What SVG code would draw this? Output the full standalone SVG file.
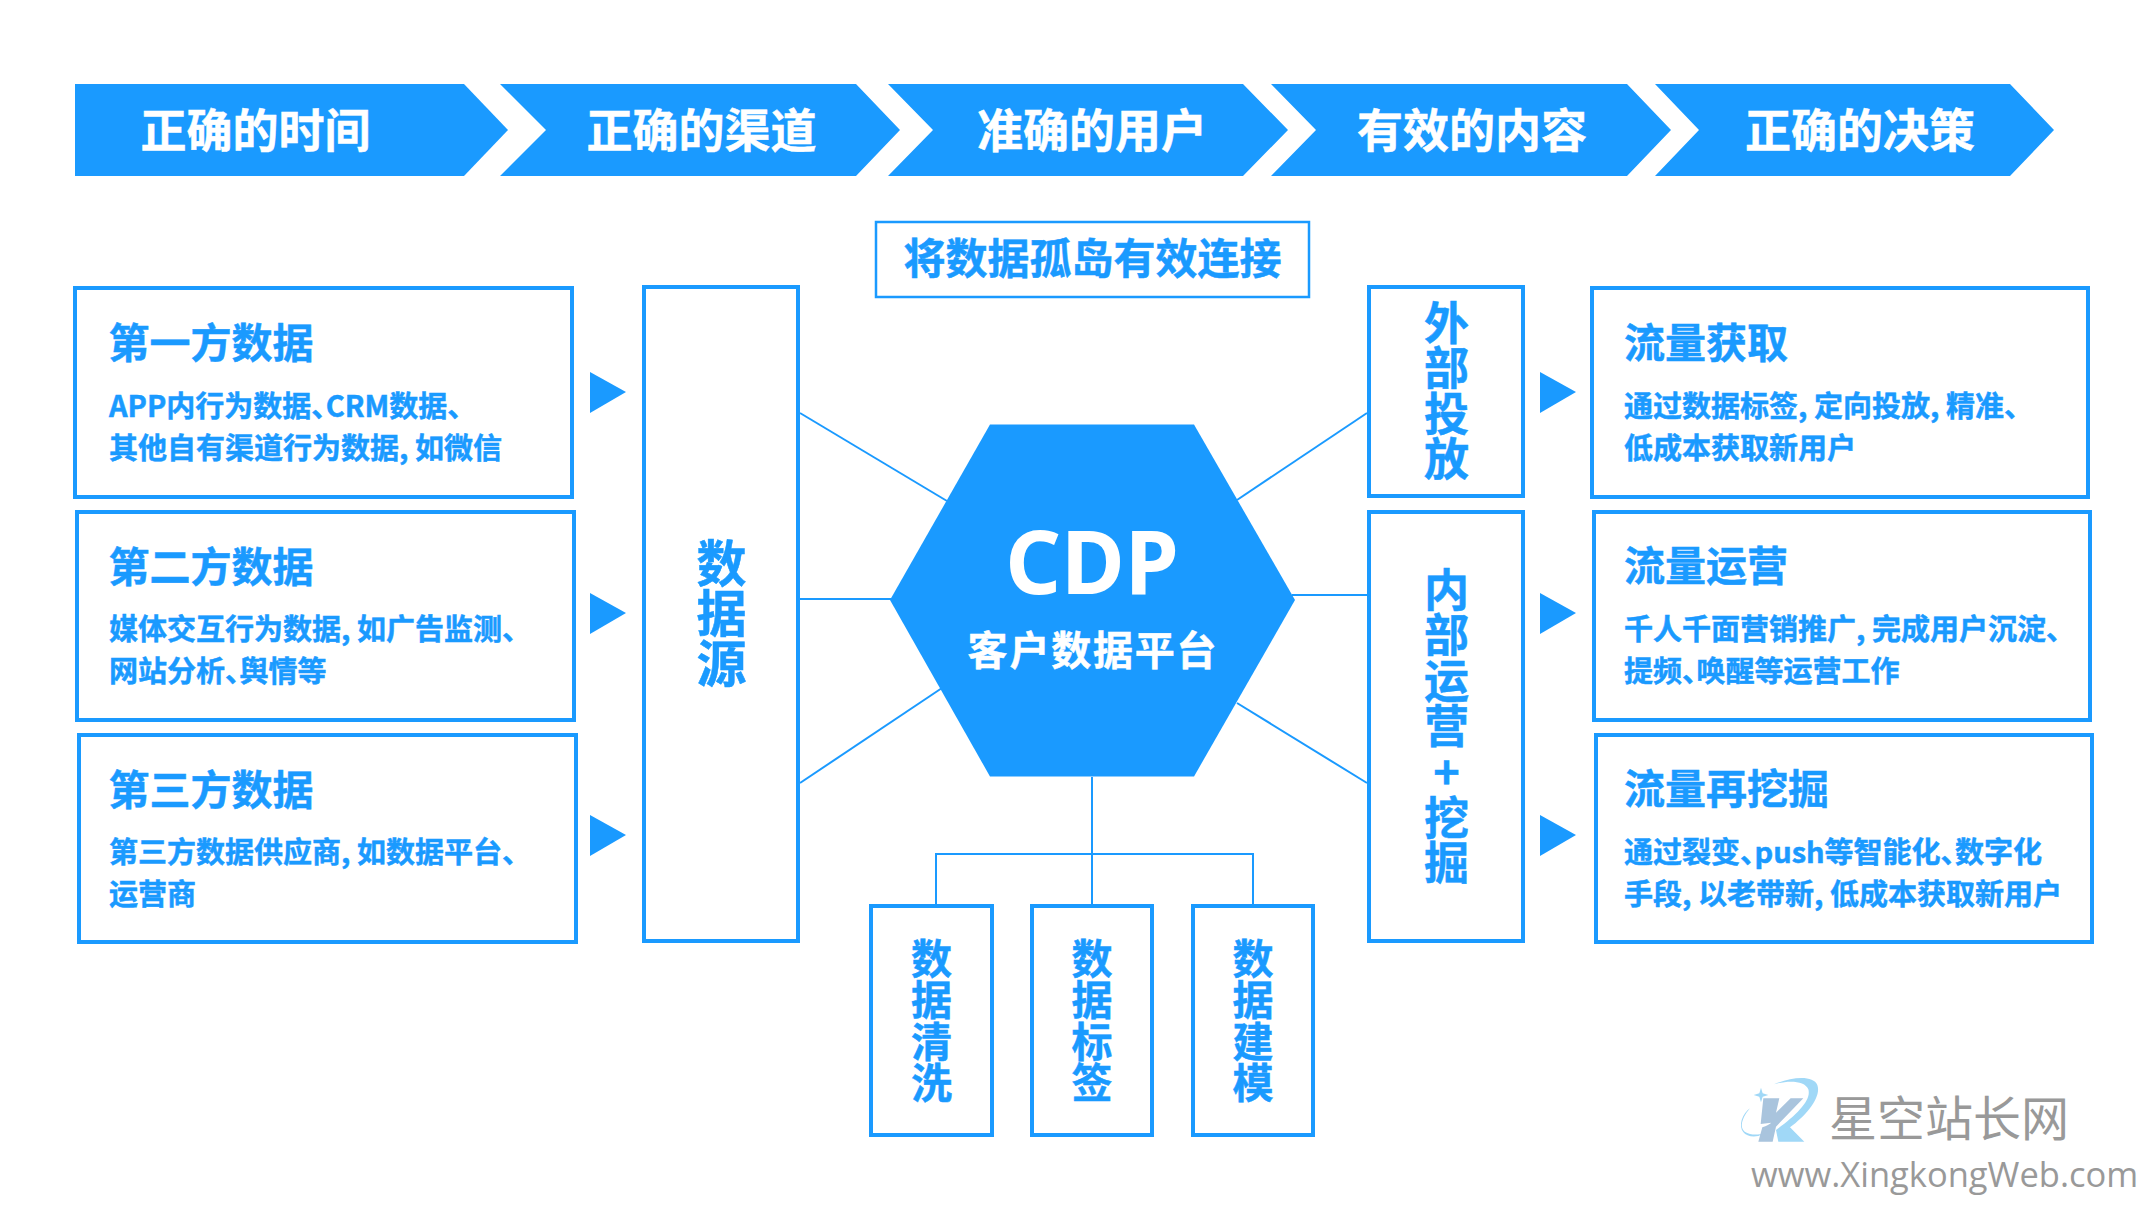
<svg xmlns="http://www.w3.org/2000/svg" width="2156" height="1213" viewBox="0 0 2156 1213">
<style>
text{font-family:"Noto Sans CJK SC","Noto Sans",sans-serif;font-weight:700;fill:#1a9aff;stroke:#1a9aff;stroke-width:.5px}
.f{fill:#1a9aff}
.b{fill:#fff;stroke:#1a9aff;stroke-width:4}
.c{fill:none;stroke:#1a9aff;stroke-width:2}
.hd{font-size:46px;text-anchor:middle;fill:#fff;stroke:#fff}
.t{font-size:41px}
.s{font-size:29px;font-feature-settings:"palt"}
.v{text-anchor:middle}
.tri{fill:#1a9aff}
.g{fill:#999;font-weight:400;stroke:none}
</style>
<g id="steps">
<g id="step1"><polygon class="f" points="75,84 464,84 508,130 464,176 75,176"/><text class="hd" x="255.500" y="147">正确的时间</text></g>
<g id="step2"><polygon class="f" points="500,84 856,84 900,130 856,176 500,176 546,130"/><text class="hd" x="701.500" y="147">正确的渠道</text></g>
<g id="step3"><polygon class="f" points="888,84 1243,84 1288,130 1243,176 888,176 933,130"/><text class="hd" x="1092" y="147">准确的用户</text></g>
<g id="step4"><polygon class="f" points="1271,84 1627,84 1671,130 1627,176 1271,176 1316,130"/><text class="hd" x="1472" y="147">有效的内容</text></g>
<g id="step5"><polygon class="f" points="1655,84 2010,84 2054,130 2010,176 1655,176 1699,130"/><text class="hd" x="1860" y="147">正确的决策</text></g>
</g>
<g id="connectors">
<line class="c" x1="800" y1="413" x2="947" y2="501"/>
<line class="c" x1="800" y1="599" x2="892" y2="599"/>
<line class="c" x1="800" y1="783" x2="942" y2="688"/>
<line class="c" x1="1367" y1="413" x2="1237" y2="500"/>
<line class="c" x1="1367" y1="595" x2="1292" y2="595"/>
<line class="c" x1="1367" y1="783" x2="1237" y2="703"/>
<line class="c" x1="1092" y1="777" x2="1092" y2="906"/>
<polyline class="c" points="936,906 936,854 1253,854 1253,906"/>
</g>
<g id="title"><rect x="876" y="222" width="433" height="75" fill="#fff" stroke="#1a9aff" stroke-width="2.500"/><text x="1092.500" y="274" text-anchor="middle" style="font-size:42px">将数据孤岛有效连接</text></g>
<g id="src1"><rect class="b" x="75" y="288" width="497" height="209"/><text class="t" x="108.500" y="358">第一方数据</text><text class="s" x="109" y="417">APP内行为数据、CRM数据、</text><text class="s" x="109" y="459">其他自有渠道行为数据, 如微信</text></g>
<g id="src2"><rect class="b" x="77" y="512" width="497" height="208"/><text class="t" x="108.500" y="582">第二方数据</text><text class="s" x="109" y="640">媒体交互行为数据, 如广告监测、</text><text class="s" x="109" y="682">网站分析、舆情等</text></g>
<g id="src3"><rect class="b" x="79" y="735" width="497" height="207"/><text class="t" x="108.500" y="805">第三方数据</text><text class="s" x="109" y="863">第三方数据供应商, 如数据平台、</text><text class="s" x="109" y="905">运营商</text></g>
<g id="arrowsL"><polygon class="tri" points="590,372 626,392 590,413"/><polygon class="tri" points="590,593 626,613 590,634"/><polygon class="tri" points="590,815 626,835 590,856"/></g>
<g id="source"><rect class="b" x="644" y="287" width="154" height="654"/><text class="v" style="font-size:50px"><tspan x="721.500" y="582">数</tspan><tspan x="721.500" y="632">据</tspan><tspan x="721.500" y="682">源</tspan></text></g>
<g id="cdp"><polygon class="f" points="990,424.500 1194,424.500 1295,600 1194,776.500 990,776.500 890,600"/><text x="1092" y="594" text-anchor="middle" style="font-size:87px;fill:#fff;stroke:none;font-family:'Noto Sans',sans-serif">CDP</text><text x="1093" y="665" text-anchor="middle" style="font-size:40px;fill:#fff;stroke:#fff;letter-spacing:1.800px">客户数据平台</text></g>
<g id="clean"><rect class="b" x="871" y="906" width="121" height="229"/><text class="v" style="font-size:41px"><tspan x="931.500" y="974">数</tspan><tspan x="931.500" y="1015">据</tspan><tspan x="931.500" y="1057">清</tspan><tspan x="931.500" y="1098">洗</tspan></text></g>
<g id="tag"><rect class="b" x="1032" y="906" width="120" height="229"/><text class="v" style="font-size:41px"><tspan x="1092" y="974">数</tspan><tspan x="1092" y="1015">据</tspan><tspan x="1092" y="1057">标</tspan><tspan x="1092" y="1098">签</tspan></text></g>
<g id="model"><rect class="b" x="1193" y="906" width="120" height="229"/><text class="v" style="font-size:41px"><tspan x="1253" y="974">数</tspan><tspan x="1253" y="1015">据</tspan><tspan x="1253" y="1057">建</tspan><tspan x="1253" y="1098">模</tspan></text></g>
<g id="ext"><rect class="b" x="1369" y="287" width="154" height="209"/><text class="v" style="font-size:45px"><tspan x="1446.500" y="340">外</tspan><tspan x="1446.500" y="385">部</tspan><tspan x="1446.500" y="431">投</tspan><tspan x="1446.500" y="476">放</tspan></text></g>
<g id="int"><rect class="b" x="1369" y="512" width="154" height="429"/><text class="v" style="font-size:45px"><tspan x="1446.500" y="607">内</tspan><tspan x="1446.500" y="652">部</tspan><tspan x="1446.500" y="698">运</tspan><tspan x="1446.500" y="743">营</tspan><tspan x="1446.500" y="789">+</tspan><tspan x="1446.500" y="835">挖</tspan><tspan x="1446.500" y="880">掘</tspan></text></g>
<g id="arrowsR"><polygon class="tri" points="1540,372 1576,392 1540,413"/><polygon class="tri" points="1540,593 1576,613 1540,634"/><polygon class="tri" points="1540,815 1576,835 1540,856"/></g>
<g id="out1"><rect class="b" x="1592" y="288" width="496" height="209"/><text class="t" x="1624" y="358">流量获取</text><text class="s" x="1624" y="417">通过数据标签, 定向投放, 精准、</text><text class="s" x="1624" y="459">低成本获取新用户</text></g>
<g id="out2"><rect class="b" x="1594" y="512" width="496" height="208"/><text class="t" x="1624" y="581">流量运营</text><text class="s" x="1624" y="640">千人千面营销推广, 完成用户沉淀、</text><text class="s" x="1624" y="682">提频、唤醒等运营工作</text></g>
<g id="out3"><rect class="b" x="1596" y="735" width="496" height="207"/><text class="t" x="1624" y="804">流量再挖掘</text><text class="s" x="1624" y="863">通过裂变、push等智能化、数字化</text><text class="s" x="1624" y="905">手段, 以老带新, 低成本获取新用户</text></g>
<g id="watermark">
<g transform="translate(1700 1050) scale(.3333)">
<path fill="#a0d8f7" d="M222 103C275 80 340 75 352 105C365 140 320 195 270 232L313 275H235L228 240C290 195 335 150 325 118C315 92 265 90 222 103Z"/>
<path fill="#a0d8f7" d="M150 175C120 210 115 245 150 252C175 258 200 248 215 240L175 258C140 265 115 245 125 210C130 195 140 182 150 175Z"/>
<path fill="#a9c4dd" d="M190 145H238L228 188L272 145H310L228 230L218 275H175L187 232C200 228 210 222 214 218L182 222Z"/>
<path fill="#a0d8f7" d="M183 113L188 130L205 135L188 140L183 157L178 140L161 135L178 130Z"/>
</g>
<text class="g" x="1829" y="1136" style="font-size:48px">星空站长网</text>
<text class="g" x="1751" y="1187" style="font-size:34.500px;font-family:'Open Sans',sans-serif">www.XingkongWeb.com</text>
</g>
</svg>
